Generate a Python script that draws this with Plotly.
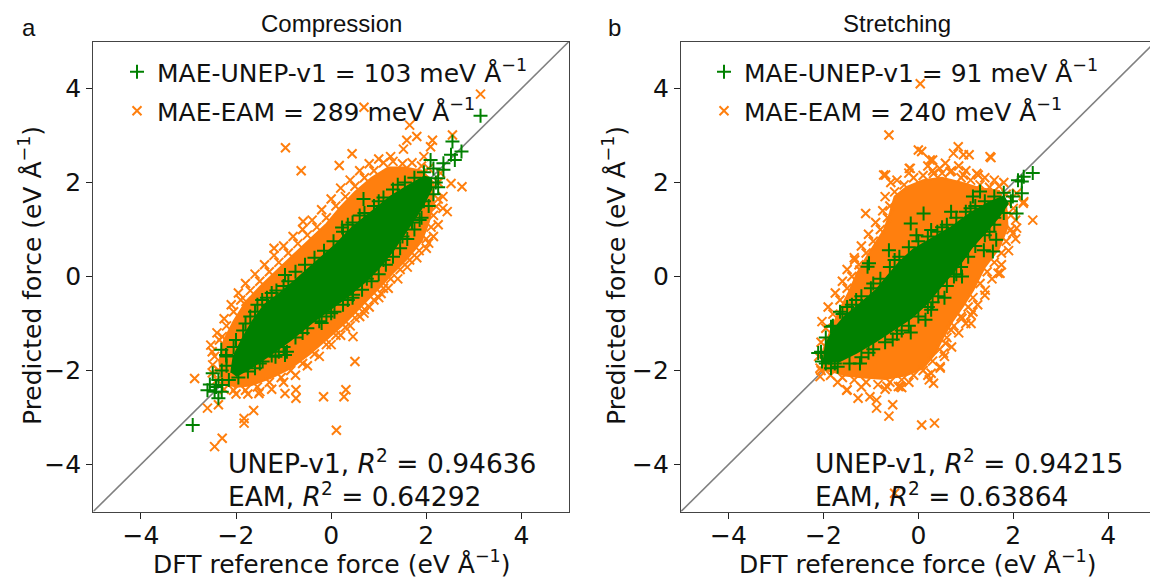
import plotly.graph_objects as go

# ---------------- data ----------------
# Force-parity clouds: (DFT reference force, predicted force) in eV/Å.
# *_pts   : individual markers along the cloud edges and the scattered outliers
# *_core  : outline of the saturated centre of each cloud, where markers merge

comp_unep_pts = [
    (3.14, 3.42), (2.55, 2.87), (2.52, 2.59), (2.60, 2.48), (2.74, 2.66), (2.36, 2.41),
    (2.36, 2.27), (2.09, 2.48), (2.25, 2.09), (0.68, 1.65), (0.23, 1.04), (1.86, 1.20),
    (-0.97, 0.03), (-2.91, -3.16), (-2.60, -2.42), (-2.45, -2.45), (-2.49, -2.06),
    (-2.37, -2.20), (-2.29, -2.31), (-2.37, -2.59), (-2.31, -1.56), (-2.21, -1.67),
    (-1.44, -1.81), (-1.17, -1.71), (-0.97, -1.67), (-0.93, -1.60), (-0.20, -0.99),
    (0.07, -0.75), (0.46, -0.39), (-2.55, -2.30), (-2.42, -2.35), (-2.30, -2.45),
    (-2.20, -1.90), (-2.05, -1.50), (-1.85, -1.15), (-1.70, -0.85), (-1.55, -0.60),
    (-1.35, -0.45), (-1.15, -0.30), (-0.90, -0.10), (-0.75, 0.10), (-0.55, 0.25),
    (-0.35, 0.40), (-0.15, 0.55), (0.05, 0.75), (0.25, 0.95), (0.45, 1.15), (0.70, 1.35),
    (0.90, 1.50), (1.10, 1.68), (1.30, 1.85), (1.55, 2.00), (1.75, 2.10), (1.95, 2.22),
    (2.15, 2.30), (2.20, 2.00), (2.15, 1.75), (2.05, 1.50), (1.90, 1.25), (1.75, 1.00),
    (1.60, 0.80), (1.45, 0.60), (1.30, 0.42), (1.15, 0.25), (1.00, 0.05), (0.85, -0.10),
    (0.65, -0.28), (0.45, -0.45), (0.25, -0.60), (0.00, -0.78), (-0.25, -0.95),
    (-0.50, -1.10), (-0.75, -1.30), (-1.00, -1.50), (-1.25, -1.68), (-1.50, -1.85),
    (-1.75, -2.02), (-1.95, -2.15), (-2.15, -2.20),
    (-2.30, -2.00), (-2.20, -1.70), (-2.00, -1.35), (-1.80, -1.00), (-1.60, -0.75),
    (-1.45, -0.50), (-1.25, -0.35), (-1.00, -0.20), (0.35, 1.10), (0.60, 1.30),
    (1.00, 1.60), (1.40, 1.95), (2.25, 1.90), (1.95, 1.60), (1.70, 1.15), (1.50, 0.85),
    (1.10, 0.35), (0.75, -0.05), (0.35, -0.50), (-0.10, -0.85), (-0.60, -1.20),
    (-1.10, -1.60), (-1.60, -1.95),
]

comp_eam_pts = [
    (3.14, 3.88), (0.69, 3.60), (1.65, 3.22), (-0.96, 2.74), (0.44, 2.61), (0.17, 2.36),
    (-0.63, 2.25), (1.80, 2.98), (1.59, 2.90), (2.13, 2.90), (2.09, 2.76), (2.55, 3.01),
    (1.52, 2.71), (2.75, 1.91), (2.52, 1.98), (2.44, 1.38), (2.21, 1.49), (-0.59, 1.17),
    (2.05, 0.71), (-2.45, -3.62), (-2.29, -3.44), (-1.83, -3.02), (-1.63, -2.85),
    (-1.83, -3.12), (-2.87, -2.17), (-2.60, -2.80), (-2.37, -2.73), (-2.49, -1.88),
    (-2.37, -1.99), (-2.53, -1.46), (-2.29, -1.28), (-1.79, -0.53), (0.11, -3.27),
    (-0.16, -2.56), (0.27, -2.56), (0.31, -2.41), (-0.74, -2.41), (-0.74, -2.59),
    (-0.97, -2.49), (-1.52, -2.49), (0.50, -1.81), (0.46, -1.28), (0.69, -0.78),
    (1.05, -0.36), (2.35, 1.70), (2.30, 2.20), (1.95, 2.55), (1.25, 2.55), (-1.20, 0.60),
    (-2.40, -2.20), (-2.45, -1.70), (-2.35, -1.35), (-2.20, -1.05), (-2.05, -0.75),
    (-1.90, -0.50), (-1.70, -0.30), (-1.50, -0.10), (-1.30, 0.10), (-1.10, 0.30),
    (-0.90, 0.50), (-0.70, 0.70), (-0.50, 0.88), (-0.30, 1.05), (-0.10, 1.25), (0.10, 1.50),
    (0.30, 1.70), (0.50, 1.92), (0.70, 2.10), (0.90, 2.25), (1.10, 2.42), (1.30, 2.45),
    (1.50, 2.40), (1.70, 2.42), (1.90, 2.35), (2.05, 2.30), (2.25, 2.00), (2.25, 1.65),
    (2.15, 1.30), (2.10, 1.05), (2.00, 0.80), (1.85, 0.55), (1.65, 0.35), (1.45, 0.15),
    (1.25, -0.05), (1.10, -0.25), (0.90, -0.50), (0.70, -0.70), (0.50, -0.88),
    (0.30, -1.08), (0.10, -1.25), (-0.10, -1.45), (-0.35, -1.65), (-0.60, -1.85),
    (-0.85, -2.00), (-1.05, -2.15), (-1.30, -2.25), (-1.55, -2.35), (-1.80, -2.42),
    (-2.05, -2.42), (-2.25, -2.40),
    (-2.50, -2.05), (-2.50, -1.60), (-2.40, -1.20), (-2.25, -0.90), (-2.10, -0.60),
    (-1.95, -0.35), (-1.80, -0.15), (-1.60, 0.05), (-1.40, 0.25), (-1.20, 0.45),
    (-1.00, 0.65), (-0.80, 0.85), (-0.60, 1.00), (-0.40, 1.20), (-0.20, 1.42),
    (0.00, 1.65), (0.20, 1.88), (0.40, 2.05), (0.60, 2.25), (0.80, 2.40), (1.00, 2.50),
    (2.35, 1.45), (2.25, 1.10), (2.15, 0.85), (2.00, 0.60), (1.80, 0.40), (1.60, 0.20),
    (1.40, -0.05), (1.20, -0.25), (1.00, -0.45), (0.80, -0.65), (0.60, -0.85),
    (0.40, -1.05), (0.20, -1.25), (0.00, -1.45), (-0.25, -1.70), (-0.50, -1.90),
    (-0.75, -2.10), (-1.00, -2.25), (-1.25, -2.40), (-1.50, -2.45), (-1.75, -2.50),
    (-2.00, -2.50),
]

comp_unep_core = [
    (-2.10, -2.05), (-2.05, -1.70), (-1.85, -1.30), (-1.65, -0.95), (-1.40, -0.60),
    (-1.10, -0.38), (-0.80, -0.12), (-0.50, 0.15), (-0.20, 0.42), (0.10, 0.68),
    (0.45, 1.05), (0.85, 1.38), (1.25, 1.70), (1.60, 1.92), (1.95, 2.12), (2.10, 2.10),
    (2.10, 1.85), (1.90, 1.45), (1.60, 1.00), (1.30, 0.55), (1.00, 0.18), (0.70, -0.12),
    (0.35, -0.42), (0.00, -0.68), (-0.40, -0.98), (-0.85, -1.35), (-1.30, -1.68),
    (-1.70, -1.95), (-2.00, -2.12),
]

comp_eam_core = [
    (-2.30, -2.30), (-2.35, -1.80), (-2.25, -1.35), (-2.05, -0.95), (-1.80, -0.55),
    (-1.50, -0.22), (-1.15, 0.12), (-0.80, 0.45), (-0.45, 0.78), (-0.10, 1.12),
    (0.20, 1.48), (0.50, 1.80), (0.85, 2.10), (1.20, 2.32), (1.55, 2.32), (1.90, 2.25),
    (2.15, 2.00), (2.15, 1.55), (2.05, 1.15), (1.90, 0.75), (1.60, 0.38), (1.30, 0.08),
    (1.00, -0.25), (0.65, -0.62), (0.30, -0.98), (-0.05, -1.30), (-0.45, -1.65),
    (-0.85, -1.95), (-1.25, -2.15), (-1.70, -2.32), (-2.05, -2.35),
]

stre_unep_pts = [
    (2.41, 2.20), (2.22, 2.12), (2.10, 2.05), (2.18, 2.02), (2.18, 1.77), (2.07, 1.34),
    (1.99, 1.70), (1.30, 1.81), (1.15, 1.70), (0.69, 1.38), (0.11, 1.34), (-0.16, 1.13),
    (0.27, 0.99), (-0.04, 0.88), (-0.62, 0.56), (-1.04, 0.28), (-1.07, 0.21), (1.38, 0.56),
    (1.57, 0.53), (1.64, 0.78), (1.30, 0.99), (0.92, 0.00), (-2.11, -1.63), (-2.03, -1.81),
    (-1.84, -1.95), (-1.76, -1.85), (-1.23, -1.85), (-0.16, -1.19), (-0.54, -1.34),
    (0.15, -0.92), (0.27, -0.71), (-1.65, -0.75), (-1.84, -1.07), (-1.31, -0.50),
    (1.60, 1.25), (0.55, -0.45),
    (-2.05, -1.60), (-1.95, -1.30), (-1.80, -1.05), (-1.60, -0.80), (-1.40, -0.60),
    (-1.20, -0.42), (-1.00, -0.25), (-0.80, -0.05), (-0.60, 0.20), (-0.40, 0.42),
    (-0.20, 0.62), (0.00, 0.75), (0.20, 0.85), (0.40, 0.95), (0.60, 1.10), (0.80, 1.25),
    (1.00, 1.38), (1.20, 1.50), (1.40, 1.60), (1.60, 1.70), (1.80, 1.78), (1.95, 1.60),
    (1.80, 1.35), (1.60, 1.10), (1.40, 0.88), (1.20, 0.65), (1.05, 0.42), (0.90, 0.20),
    (0.75, 0.00), (0.60, -0.20), (0.42, -0.42), (0.20, -0.65), (0.00, -0.85),
    (-0.20, -1.05), (-0.45, -1.22), (-0.70, -1.40), (-0.95, -1.55), (-1.20, -1.72),
    (-1.45, -1.85), (-1.70, -1.92), (-1.95, -1.85),
    (-1.50, -0.65), (-0.95, -0.15), (-0.50, 0.35), (0.50, 1.05), (1.10, 1.45),
    (1.50, 0.95), (0.80, 0.05), (0.30, -0.55), (-0.35, -1.15), (-1.05, -1.62),
]

stre_eam_pts = [
    (0.04, 4.10), (-0.62, 3.01), (0.00, 2.69), (0.07, 2.66), (0.84, 2.76), (1.07, 2.59),
    (1.53, 2.53), (0.30, 2.48), (0.57, 2.41), (-0.69, 2.16), (-0.58, 2.00), (-0.19, 2.30),
    (1.26, 2.16), (-1.11, 1.34), (2.41, 1.20), (2.22, 1.59), (2.07, 1.03), (1.99, 0.92),
    (1.68, 0.07), (-1.34, 0.35), (-1.23, 0.14), (0.25, 2.48), (0.74, 2.62), (0.95, 2.59),
    (1.51, 2.55), (-0.17, 2.30), (-0.73, 2.16), (0.32, 2.19), (0.67, 2.23), (0.95, 2.16),
    (1.23, 2.19), (-2.03, -0.96), (-2.07, -1.95), (-2.07, -2.13), (-1.50, -2.41),
    (-1.27, -2.59), (-0.88, -2.63), (-0.88, -2.80), (-0.54, -2.73), (-0.62, -2.97),
    (-0.42, -2.34), (-0.35, -2.36), (0.07, -3.16), (0.34, -3.12), (-0.50, -4.61),
    (0.27, -2.06), (0.23, -2.20), (0.46, -1.95), (0.53, -1.63), (0.57, -1.42),
    (1.11, -1.00), (1.11, -0.82), (1.15, -0.75), (1.41, -0.29), (0.92, -0.89),
    (0.69, -1.14), (-1.51, -2.42), (-1.02, -2.56), (-0.66, -2.34), (-0.38, -2.34),
    (0.32, -2.27), (0.46, -1.92), (2.21, 1.56), (2.07, 1.77), (1.72, 0.07),
    (-0.50, 1.80), (-0.30, 1.95), (-0.10, 2.10), (0.10, 2.15), (0.30, 2.25), (0.50, 2.20),
    (0.70, 2.25), (0.90, 2.10), (1.10, 2.05), (1.30, 1.95), (1.50, 1.90), (1.70, 1.92),
    (1.85, 1.75), (-0.60, 1.50), (-0.65, 1.25), (-0.80, 1.00), (-0.95, 0.75),
    (-1.10, 0.50), (-1.25, 0.25), (-1.40, 0.00), (-1.50, -0.25), (-1.65, -0.50),
    (-1.80, -0.80), (-1.95, -1.10), (-2.05, -1.40), (-2.10, -1.70), (-2.05, -2.00),
    (-1.85, -2.10), (-1.60, -2.15), (-1.35, -2.20), (-1.10, -2.25), (-0.85, -2.30),
    (-0.60, -2.25), (-0.35, -2.20), (-0.10, -2.10), (0.10, -2.00), (0.30, -1.80),
    (0.45, -1.55), (0.60, -1.30), (0.75, -1.05), (0.90, -0.85), (1.05, -0.65),
    (1.15, -0.45), (1.30, -0.15), (1.45, 0.10), (1.60, 0.30), (1.75, 0.50), (1.85, 0.75),
    (1.95, 1.00), (1.95, 1.30), (1.90, 1.55),
    (-0.45, 2.05), (-0.20, 2.20), (0.20, 2.35), (0.45, 2.30), (0.85, 2.35), (1.00, 2.25),
    (1.40, 2.10), (1.60, 2.05), (1.80, 2.00), (-0.70, 1.70), (-0.75, 1.40), (-0.90, 1.15),
    (-1.05, 0.90), (-1.20, 0.65), (-1.35, 0.40), (-1.50, 0.15), (-1.60, -0.10),
    (-1.75, -0.35), (-1.90, -0.65), (-1.70, -2.25), (-1.20, -2.35), (-0.70, -2.40),
    (-0.20, -2.25), (0.20, -2.10), (0.55, -1.70), (0.70, -1.50), (0.85, -1.20),
    (1.00, -1.00), (1.25, -0.60), (1.40, -0.40), (1.55, -0.05), (1.75, 0.25),
    (1.90, 0.55), (2.05, 0.80), (2.05, 1.20), (2.00, 1.45),
]

stre_unep_core = [
    (-2.00, -1.85), (-1.95, -1.45), (-1.80, -1.15), (-1.55, -0.85), (-1.25, -0.60),
    (-0.90, -0.30), (-0.65, 0.00), (-0.40, 0.30), (-0.10, 0.58), (0.25, 0.78),
    (0.70, 1.05), (1.10, 1.35), (1.50, 1.58), (1.80, 1.70), (1.88, 1.55), (1.70, 1.28),
    (1.45, 0.98), (1.15, 0.65), (0.90, 0.30), (0.65, 0.00), (0.40, -0.30), (0.15, -0.60),
    (-0.15, -0.88), (-0.50, -1.12), (-0.90, -1.38), (-1.30, -1.62), (-1.70, -1.82),
]

stre_eam_core = [
    (-2.00, -2.00), (-2.00, -1.55), (-1.85, -1.15), (-1.65, -0.70), (-1.45, -0.30),
    (-1.30, 0.05), (-1.10, 0.40), (-0.90, 0.72), (-0.72, 1.00), (-0.60, 1.35),
    (-0.50, 1.70), (-0.25, 1.90), (0.10, 2.05), (0.50, 2.10), (0.90, 2.00), (1.30, 1.88),
    (1.70, 1.82), (1.85, 1.50), (1.88, 1.05), (1.70, 0.60), (1.40, 0.20), (1.15, -0.30),
    (0.95, -0.62), (0.72, -0.95), (0.52, -1.30), (0.35, -1.65), (0.10, -1.95),
    (-0.25, -2.10), (-0.70, -2.18), (-1.15, -2.15), (-1.60, -2.10),
]

panel_titles = ["Compression", "Stretching"]
panel_tags = ["a", "b"]
mae_unep = [103, 91]      # meV/Å
mae_eam = [289, 240]      # meV/Å
r2_unep = ["0.94636", "0.94215"]
r2_eam = ["0.64292", "0.63864"]
diag = [-5, 5]
tick_vals = [-4, -2, 0, 2, 4]

# ---------------- styling ----------------
W, H = 1150, 577
GREEN = "#008000"
ORANGE = "#ff7f0e"
FONT = "DejaVu Sans"
TITLE_FONT = "Liberation Sans, Arial, sans-serif"


def fx(p):
    return p / W


def fy(p):
    return 1 - p / H


def split(pts):
    return [p[0] for p in pts], [p[1] for p in pts]


fig = go.Figure()

panels = [
    dict(ax="x", ay="y", unep=comp_unep_pts, eam=comp_eam_pts,
         unep_core=comp_unep_core, eam_core=comp_eam_core, legs=("legend", "legend2")),
    dict(ax="x2", ay="y2", unep=stre_unep_pts, eam=stre_eam_pts,
         unep_core=stre_unep_core, eam_core=stre_eam_core, legs=("legend3", "legend4")),
]

for i, p in enumerate(panels):
    # y = x reference line
    fig.add_trace(go.Scatter(x=diag, y=diag, mode="lines", xaxis=p["ax"], yaxis=p["ay"],
                             line=dict(color="#808080", width=1.6),
                             showlegend=False, hoverinfo="skip"))
    # EAM cloud
    cx, cy = split(p["eam_core"])
    fig.add_trace(go.Scatter(x=cx, y=cy, mode="lines", fill="toself", fillcolor=ORANGE,
                             line=dict(color=ORANGE, width=2), xaxis=p["ax"], yaxis=p["ay"],
                             showlegend=False, hoverinfo="skip"))
    px_, py_ = split(p["eam"])
    fig.add_trace(go.Scatter(
        x=px_, y=py_, mode="markers", xaxis=p["ax"], yaxis=p["ay"],
        marker=dict(symbol="x-thin", size=9, color=ORANGE, line=dict(color=ORANGE, width=2)),
        name=f"MAE-EAM = {mae_eam[i]} meV Å<sup>−1</sup>", legend=p["legs"][1]))
    # UNEP-v1 cloud
    cx, cy = split(p["unep_core"])
    fig.add_trace(go.Scatter(x=cx, y=cy, mode="lines", fill="toself", fillcolor=GREEN,
                             line=dict(color=GREEN, width=2), xaxis=p["ax"], yaxis=p["ay"],
                             showlegend=False, hoverinfo="skip"))
    px_, py_ = split(p["unep"])
    fig.add_trace(go.Scatter(
        x=px_, y=py_, mode="markers", xaxis=p["ax"], yaxis=p["ay"],
        marker=dict(symbol="cross-thin", size=10, color=GREEN, line=dict(color=GREEN, width=2)),
        name=f"MAE-UNEP-v1 = {mae_unep[i]} meV Å<sup>−1</sup>", legend=p["legs"][0]))

axis_common = dict(
    tickvals=tick_vals, ticks="outside", ticklen=6, tickwidth=1.3, tickcolor="#222",
    showline=True, linecolor="#444", linewidth=1.3, showgrid=False, zeroline=False,
    tickfont=dict(family=FONT, size=25, color="#111"),
)

y_dom = [fy(511.5), fy(41.5)]
fig.update_layout(
    width=W, height=H, margin=dict(l=0, r=0, t=0, b=0),
    plot_bgcolor="white", paper_bgcolor="white",
    xaxis=dict(domain=[fx(93.3), fx(569)], range=[-5, 5], anchor="y", mirror=True,
               ticklabelstandoff=-5, **axis_common),
    yaxis=dict(domain=y_dom, range=[-5, 5], anchor="x", mirror=True, **axis_common),
    xaxis2=dict(domain=[fx(681), 1.0], range=[-5, 4.88], anchor="y2", mirror=True,
                ticklabelstandoff=-5, **axis_common),
    yaxis2=dict(domain=y_dom, range=[-5, 5], anchor="x2", mirror=False, **axis_common),
)

# one legend box per entry so each row can sit where it belongs
leg_style = dict(xanchor="left", yanchor="middle", bgcolor="rgba(0,0,0,0)", borderwidth=0,
                 font=dict(family=FONT, size=25, color="#111"))
fig.update_layout(
    legend=dict(x=fx(117), y=fy(72), **leg_style),
    legend2=dict(x=fx(117), y=fy(111), **leg_style),
    legend3=dict(x=fx(704), y=fy(72), **leg_style),
    legend4=dict(x=fx(704), y=fy(111), **leg_style),
)

annotations = []
title_x = [331, 897]
tag_x = [29, 614]
xlabel_x = [332, 918]
ylabel_x = [30, 614]
r2_x = [226, 813]
for i in range(2):
    annotations += [
        dict(text=panel_titles[i], x=fx(title_x[i]), y=fy(24), xanchor="center", yanchor="middle",
             font=dict(family=TITLE_FONT, size=24, color="#111")),
        dict(text=panel_tags[i], x=fx(tag_x[i]), y=fy(27), xanchor="center", yanchor="middle",
             font=dict(family=TITLE_FONT, size=24, color="#111")),
        dict(text="DFT reference force (eV Å<sup>−1</sup>)", x=fx(xlabel_x[i]), y=fy(562),
             xanchor="center", yanchor="middle", font=dict(family=FONT, size=25, color="#111")),
        dict(text="Predicted force (eV Å<sup>−1</sup>)", x=fx(ylabel_x[i]), y=fy(276),
             xanchor="center", yanchor="middle", textangle=-90,
             font=dict(family=FONT, size=25, color="#111")),
        dict(text=f"UNEP-v1, <i>R</i><sup>2</sup> = {r2_unep[i]}", x=fx(r2_x[i]), y=fy(462),
             xanchor="left", yanchor="middle", font=dict(family=FONT, size=26.5, color="#111")),
        dict(text=f"EAM, <i>R</i><sup>2</sup> = {r2_eam[i]}", x=fx(r2_x[i]), y=fy(495),
             xanchor="left", yanchor="middle", font=dict(family=FONT, size=26.5, color="#111")),
    ]
for a in annotations:
    a.update(xref="paper", yref="paper", showarrow=False)
fig.update_layout(annotations=annotations)

fig.write_html("out.html")
